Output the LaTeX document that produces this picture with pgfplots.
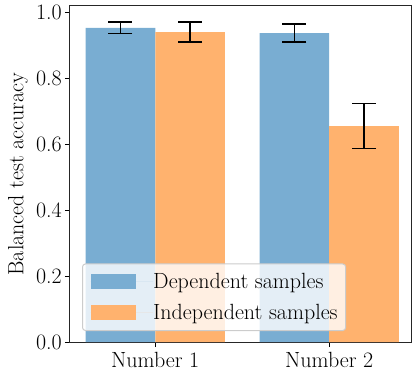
\documentclass[border=0pt]{standalone}
\usepackage{fontspec}
\usepackage{pgfplots}
\pgfplotsset{compat=1.18}
\definecolor{depblue}{RGB}{121,173,210}
\definecolor{indorange}{RGB}{255,178,110}
\begin{document}
\begin{tikzpicture}
\begin{axis}[
  name=ax,
  scale only axis,
  width=341pt, height=336pt,
  xmin=-0.49, xmax=1.47,
  ymin=0, ymax=1.019,
  font=\fontsize{22}{26}\selectfont,
  /pgf/number format/assume math mode=true,
  xtick={0,1}, xticklabels={Number 1, Number 2},
  ytick={0,0.2,0.4,0.6,0.8,1.0},
  yticklabel style={/pgf/number format/fixed, /pgf/number format/fixed zerofill, /pgf/number format/precision=1, inner xsep=0pt, xshift=-3pt},
  xticklabel style={inner sep=0pt, yshift=-5pt},
  tick align=outside,
  xtick pos=left, ytick pos=left,
  major tick length=5pt,
  tick style={black, line width=1pt},
  axis line style={black!85, line width=1pt},
  ylabel={Balanced test accuracy},
  ylabel style={at={(axis description cs:0,0.5)}, anchor=south, inner sep=0pt, yshift=42pt},
  legend style={
    at={(axis description cs:0.0352,0.0327)}, anchor=south west,
    draw=black!20, line width=1pt, rounded corners=3pt,
    fill=white, fill opacity=0.8, text opacity=1,
    inner xsep=8pt, inner ysep=9.5pt, row sep=14pt,
    nodes={inner sep=0pt},
    font=\fontsize{22}{26}\selectfont,
  },
  legend cell align=left,
]
\addplot+[ybar, bar width=0.4, bar shift=0pt, draw=none, fill=depblue, mark=none,
  legend image code/.code={\fill[depblue, fill opacity=1, sharp corners] (0pt,-7.5pt) rectangle (45pt,7.5pt); \path (0pt,0pt) -- (62.7pt,0pt);},
  error bars/.cd, y dir=both, y explicit,
  error bar style={black, line width=1.5pt},
  error mark options={rotate=90, black, line width=1.5pt, mark size=12pt},
  ]
  coordinates {(-0.2,0.953) +- (0,0.018) (0.8,0.937) +- (0,0.027)};
\addlegendentry{Dependent samples}
\addplot+[ybar, bar width=0.4, bar shift=0pt, draw=none, fill=indorange, mark=none,
  legend image code/.code={\fill[indorange, fill opacity=1, sharp corners] (0pt,-7.5pt) rectangle (45pt,7.5pt); \path (0pt,0pt) -- (62.7pt,0pt);},
  error bars/.cd, y dir=both, y explicit,
  error bar style={black, line width=1.5pt},
  error mark options={rotate=90, black, line width=1.5pt, mark size=12pt},
  ]
  coordinates {(0.2,0.940) +- (0,0.030) (1.2,0.655) +- (0,0.068)};
\addlegendentry{Independent samples}
\end{axis}
\pgfresetboundingbox
\path ([shift={(-70pt,-30pt)}]ax.south west) rectangle ([shift={(1pt,6pt)}]ax.north east);
\end{tikzpicture}
\end{document}
